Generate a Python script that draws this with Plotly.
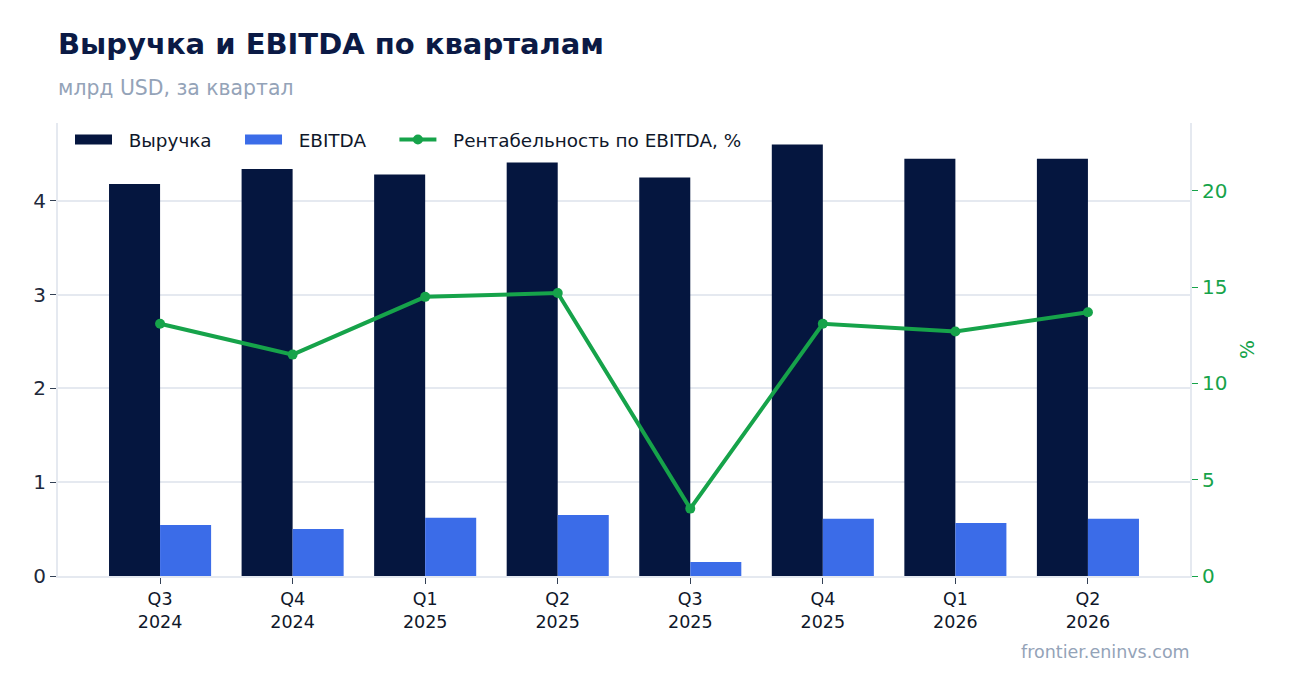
import plotly.graph_objects as go

quarters = ["Q3<br>2024", "Q4<br>2024", "Q1<br>2025", "Q2<br>2025",
            "Q3<br>2025", "Q4<br>2025", "Q1<br>2026", "Q2<br>2026"]
revenue = [4.18, 4.34, 4.28, 4.41, 4.25, 4.60, 4.45, 4.45]
ebitda = [0.544, 0.50, 0.62, 0.65, 0.15, 0.61, 0.565, 0.61]
margin = [13.1, 11.5, 14.5, 14.7, 3.5, 13.1, 12.7, 13.7]

NAVY = "#05163f"
BLUE = "#3b6ce8"
GREEN = "#16a34a"
GRID = "#e5e9f0"
FONT = "DejaVu Sans"

W, H = 1273, 677
L, R, T, B = 50, 91, 115, 109
PH = H - T - B
PW = W - L - R

NB = "\u00a0"

fig = go.Figure()
fig.add_trace(go.Bar(x=quarters, y=revenue, name="Выручка", marker_color=NAVY,
                     marker_line_width=0, showlegend=False))
fig.add_trace(go.Bar(x=quarters, y=ebitda, name="EBITDA", marker_color=BLUE,
                     marker_line_width=0, showlegend=False))
# legend entries with wide rectangular swatches
fig.add_trace(go.Scatter(x=[None], y=[None], name=NB * 2 + "Выручка" + NB * 4, mode="lines",
                         line=dict(color=NAVY, width=13)))
fig.add_trace(go.Scatter(x=[None], y=[None], name=NB * 2 + "EBITDA" + NB * 4, mode="lines",
                         line=dict(color=BLUE, width=13)))
fig.add_trace(go.Scatter(x=quarters, y=margin, name=NB * 2 + "Рентабельность по EBITDA, %",
                         mode="lines+markers", yaxis="y2",
                         line=dict(color=GREEN, width=4),
                         marker=dict(color=GREEN, size=10)))

fig.update_layout(
    width=W, height=H,
    paper_bgcolor="white", plot_bgcolor="white",
    font=dict(family=FONT, color="#1e293b"),
    margin=dict(l=L, r=R, t=T, b=B),
    barmode="group", bargap=0.23, bargroupgap=0,
    title=dict(text="<b>Выручка и EBITDA по кварталам</b>", x=L / W, xanchor="left",
               y=1 - 36 / H, yanchor="middle", font=dict(size=29, color="#0b1a45", family=FONT)),
    legend=dict(orientation="h", x=12 / PW, xanchor="left", y=1 + 2 / PH, yanchor="top",
                bgcolor="rgba(0,0,0,0)", font=dict(size=18.4, color="#0f172a"),
                itemwidth=37, traceorder="normal"),
    xaxis=dict(showgrid=False, showline=True, linecolor=GRID, linewidth=2,
               range=[-0.77, 7.77],
               ticks="outside", tickcolor="#334155", ticklen=6,
               tickfont=dict(size=17.5, color="#0f172a")),
    yaxis=dict(range=[0, 4.83], dtick=1, showgrid=True, gridcolor=GRID, gridwidth=2,
               showline=True, linecolor=GRID, linewidth=2, zeroline=False,
               ticks="outside", tickcolor="#334155", ticklen=6,
               tickfont=dict(size=20, color="#1e293b")),
    yaxis2=dict(overlaying="y", side="right", range=[0, 23.53], dtick=5,
                showgrid=False, showline=True, linecolor=GRID, linewidth=2, zeroline=False,
                ticks="outside", tickcolor=GREEN, ticklen=6,
                tickfont=dict(size=20, color=GREEN),
                title=dict(text="%", font=dict(size=20, color=GREEN), standoff=14)),
    annotations=[
        dict(text="млрд USD, за квартал", xref="paper", yref="paper",
             x=-2 / PW, xanchor="left", y=1 + 35 / PH, yanchor="middle", showarrow=False,
             font=dict(size=20.4, color="#94a3b8", family=FONT)),
        dict(text="frontier.eninvs.com", xref="paper", yref="paper",
             x=1 + 2 / PW, xanchor="right", y=-76 / PH, yanchor="middle", showarrow=False,
             font=dict(size=17.5, color="#94a3b8", family=FONT)),
    ],
)

fig.write_html("out.html")
